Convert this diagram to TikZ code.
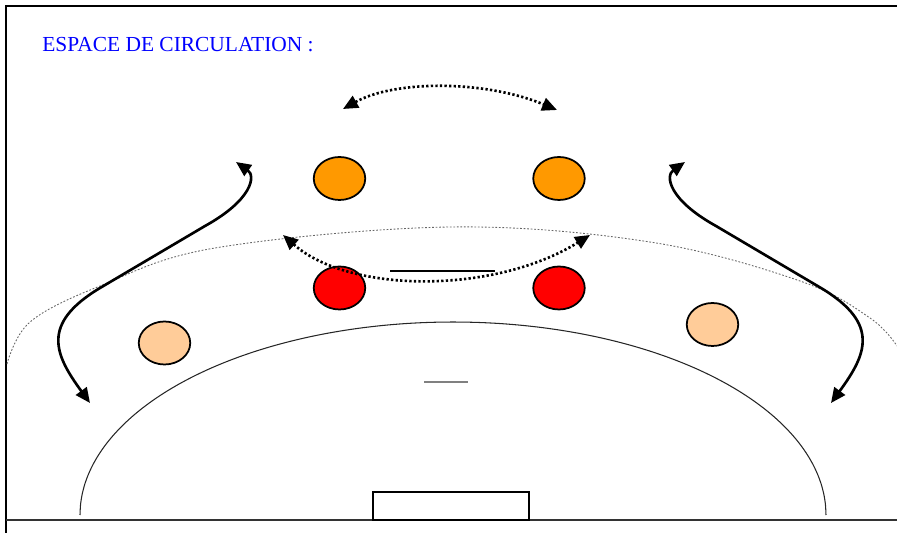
\documentclass[tikz,border=0pt]{standalone}
\usepackage{fontspec}
\setmainfont{Liberation Serif}
\usetikzlibrary{arrows.meta, shapes.geometric}
\definecolor{titre}{HTML}{0000FF}
\definecolor{orangej}{HTML}{FF9900}
\definecolor{rougej}{HTML}{FF0000}
\definecolor{chairj}{HTML}{FFCC99}
\begin{document}
\begin{tikzpicture}[x = 0.02cm, y = -0.02cm, >={Triangle[length=8.5pt, width=7.5pt]},
        joueur/.style = {ellipse, draw, line width = 1pt, minimum width = 1.03cm, minimum height = 0.86cm, inner sep = 0pt},
        course/.style = {line width = 1.5pt, <->},
        passe/.style = {line width = 1.5pt, dash pattern = on 1.3pt off 1.3pt, <->}]
        \useasboundingbox (0, 0) rectangle (897, 533);
        % cadre
        \draw [line width = 1.3pt] (897, 6) -- (6, 6) -- (6, 533);
        \draw [line width = 0.6pt, black!80] (6, 520) -- (897, 520);
        \node [anchor = base west, text = titre, font = \fontsize{12.2}{14}\selectfont, inner sep = 0pt] (titre) at (42, 52) {ESPACE DE CIRCULATION :};

        % terrain
        \draw [black!60, line width = 0.5pt, dash pattern = on 1pt off 1pt, smooth, tension = 0.6] plot coordinates {(7, 364) (30, 322) (100, 286) (215, 248) (450, 227) (650, 242) (800, 281) (870, 318) (897, 346)};
        \draw [line width = 0.6pt, black!85, domain = 180:0, samples = 60, smooth, variable = \t] plot ({453 + 373*cos(\t)}, {515 - 193*sin(\t)});
        \draw [line width = 0.7pt, gray] (424, 382) -- (468, 382);
        \draw [line width = 0.7pt] (373, 520) rectangle (529, 492);
        \draw [line width = 0.7pt] (390, 271) -- (495, 271);

        % joueurs
        \node [joueur, fill = orangej] (o1) at (339.5, 178.5) {};
        \node [joueur, fill = orangej] (o2) at (559, 178.5) {};
        \node [joueur, fill = rougej] (r1) at (339.5, 288) {};
        \node [joueur, fill = rougej] (r2) at (559, 288) {};
        \node [joueur, fill = chairj] (p1) at (164.5, 343) {};
        \node [joueur, fill = chairj] (p2) at (712.5, 324.5) {};

        % deplacements
        \coordinate (hg) at (343, 109);
        \coordinate (hd) at (557, 110);
        \coordinate (mg) at (283, 235);
        \coordinate (md) at (590, 235);
        \coordinate (cg) at (236, 162);
        \coordinate (bg) at (90, 403);
        \coordinate (cd) at (685, 162);
        \coordinate (bd) at (831, 403);
        \draw [passe] (hg) .. controls (395, 80) and (485, 80) .. (hd);
        \draw [passe] (mg) .. controls (350, 294) and (495, 294) .. (md);
        \draw [course] (cg) .. controls (256, 176) and (252, 200) .. (205, 226) -- (100, 288) .. controls (40, 324) and (55, 355) .. (bg);
        \draw [course] (cd) .. controls (665, 176) and (669, 200) .. (716, 226) -- (821, 288) .. controls (881, 324) and (866, 355) .. (bd);
\end{tikzpicture}
\end{document}
